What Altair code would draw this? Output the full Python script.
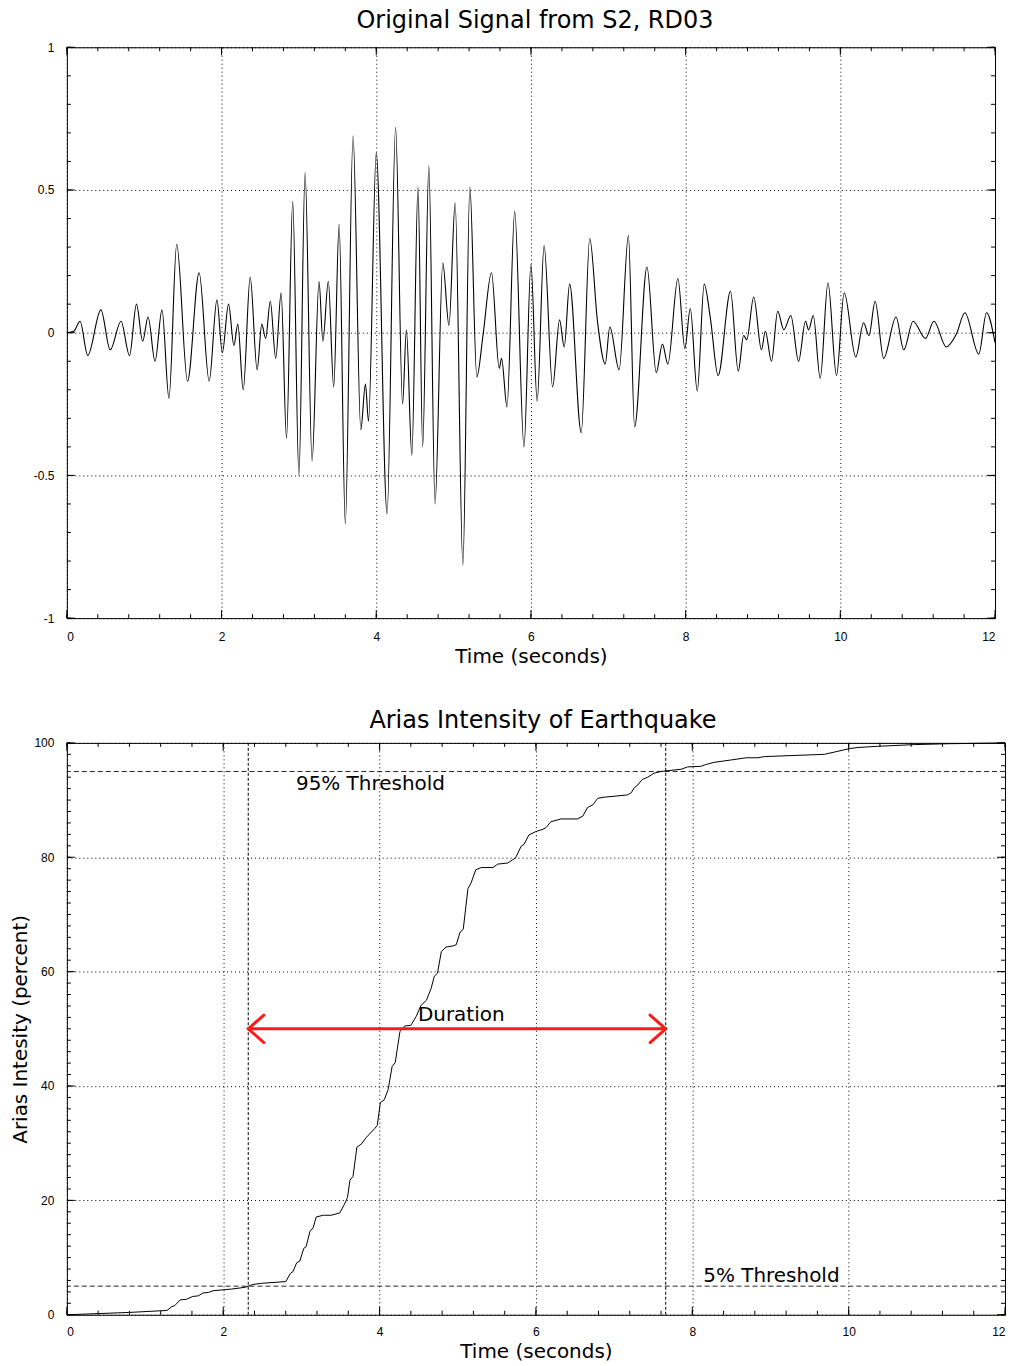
import altair as alt
import pandas as pd

# ---------------- data ----------------
sig_t = [0.00, 0.09, 0.17, 0.27, 0.44, 0.56, 0.70, 0.81, 0.90, 0.98, 1.05, 1.14, 1.23, 1.32, 1.42, 1.56,
         1.71, 1.84, 1.94, 2.01, 2.09, 2.16, 2.21, 2.28, 2.37, 2.46, 2.52, 2.57, 2.63, 2.70, 2.77, 2.84,
         2.92, 3.00, 3.08, 3.17, 3.26, 3.31, 3.38, 3.45, 3.52, 3.60, 3.70, 3.80, 3.86, 3.90, 4.00, 4.14,
         4.25, 4.34, 4.39, 4.46, 4.54, 4.60, 4.68, 4.76, 4.86, 4.94, 5.02, 5.12, 5.21, 5.30, 5.38, 5.49,
         5.59, 5.62, 5.69, 5.79, 5.91, 6.00, 6.08, 6.17, 6.28, 6.37, 6.43, 6.50, 6.65, 6.76, 6.86, 6.96,
         7.02, 7.14, 7.26, 7.34, 7.50, 7.62, 7.70, 7.77, 7.90, 7.99, 8.06, 8.15, 8.24, 8.32, 8.42, 8.58,
         8.68, 8.75, 8.79, 8.88, 8.98, 9.03, 9.11, 9.19, 9.27, 9.36, 9.46, 9.55, 9.59, 9.65, 9.74, 9.84,
         9.95, 10.05, 10.20, 10.30, 10.37, 10.45, 10.56, 10.72, 10.82, 10.94, 11.10, 11.21, 11.37, 11.50,
         11.61, 11.79, 11.89, 12.00]
sig_v = [0.00, 0.005, 0.04, -0.08, 0.08, -0.06, 0.04, -0.08, 0.10, -0.03, 0.055, -0.10, 0.08, -0.23, 0.31, -0.17,
         0.21, -0.17, 0.115, -0.07, 0.10, -0.045, 0.03, -0.20, 0.195, -0.13, 0.03, -0.02, 0.11, -0.09, 0.14, -0.37,
         0.46, -0.50, 0.56, -0.45, 0.18, -0.03, 0.18, -0.19, 0.38, -0.67, 0.69, -0.34, -0.18, -0.31, 0.63, -0.635,
         0.72, -0.25, 0.01, -0.43, 0.51, -0.40, 0.585, -0.60, 0.245, 0.025, 0.455, -0.815, 0.51, -0.155, -0.01, 0.21,
         -0.125, -0.09, -0.26, 0.425, -0.40, 0.24, -0.24, 0.305, -0.19, 0.045, -0.05, 0.17, -0.35, 0.33, 0.04, -0.11,
         0.02, -0.13, 0.34, -0.33, 0.23, -0.14, -0.04, -0.11, 0.19, -0.055, 0.085, -0.205, 0.17, 0.05, -0.15, 0.145,
         -0.135, -0.01, -0.025, 0.125, -0.06, 0.005, -0.10, 0.075, 0.01, 0.06, -0.10, 0.04, 0.01, 0.06, -0.16, 0.175,
         -0.15, 0.14, -0.085, 0.035, -0.01, 0.11, -0.09, 0.055, -0.06, 0.04, -0.02, 0.04, -0.05, -0.005,
         0.07, -0.075, 0.07, -0.035]

arias_t = [0.00, 0.79, 1.28, 1.34, 1.38, 1.45, 1.53, 1.61, 1.68, 1.74, 1.81, 1.87, 2.11, 2.28, 2.38, 2.49,
           2.80, 2.86, 2.89, 2.94, 2.98, 3.03, 3.06, 3.11, 3.15, 3.19, 3.28, 3.38, 3.49, 3.55, 3.59, 3.62,
           3.66, 3.71, 3.77, 3.83, 3.94, 3.97, 4.01, 4.06, 4.11, 4.16, 4.20, 4.26, 4.32, 4.40, 4.47, 4.53,
           4.60, 4.66, 4.70, 4.74, 4.79, 4.85, 4.94, 4.98, 5.03, 5.07, 5.13, 5.17, 5.23, 5.30, 5.45, 5.51,
           5.64, 5.74, 5.81, 5.85, 5.91, 6.00, 6.09, 6.13, 6.19, 6.32, 6.53, 6.60, 6.66, 6.73, 6.79, 6.87,
           7.17, 7.22, 7.26, 7.30, 7.36, 7.43, 7.51, 7.60, 7.86, 7.94, 8.11, 8.17, 8.28, 8.49, 8.69, 8.84,
           8.92, 9.69, 9.82, 10.01, 10.12, 10.37, 10.84, 11.27, 12.00]
arias_v = [0.0, 0.4, 0.75, 1.4, 1.6, 2.6, 2.7, 3.2, 3.3, 3.8, 3.9, 4.2, 4.5, 4.8, 5.3, 5.5,
           5.8, 7.25, 7.5, 9.1, 9.4, 11.6, 11.9, 14.6, 15.2, 17.1, 17.4, 17.4, 17.8, 19.3, 20.5, 23.5,
           24.2, 29.3, 29.9, 31.0, 32.6, 33.1, 37.1, 37.6, 39.4, 43.4, 44.1, 49.5, 50.5, 50.6, 52.2, 54.1,
           55.0, 57.1, 59.2, 59.7, 63.5, 64.3, 64.5, 64.7, 66.9, 67.4, 74.5, 75.5, 77.8, 78.2, 78.2, 78.8,
           79.0, 79.9, 81.9, 82.3, 83.9, 84.5, 84.9, 85.2, 86.2, 86.7, 86.7, 87.2, 88.7, 89.2, 90.3, 90.5,
           90.9, 91.3, 92.2, 92.6, 93.6, 94.0, 94.7, 95.0, 95.4, 95.8, 95.9, 96.2, 96.6, 97.0, 97.4, 97.4,
           97.6, 98.0, 98.4, 99.0, 99.2, 99.4, 99.7, 99.85, 100.0]

threshold_levels = [5, 95]
duration_times = [2.32, 7.66]          # 5% and 95% crossing times
arrow_level = 50
arrow_head = (0.2, 2.4)                # chevron half-size (s, %)

ann_text = ["95% Threshold", "Duration", "5% Threshold"]
ann_t = [2.93, 4.49, 8.14]
ann_v = [92.8, 52.5, 6.8]

x_major = [0, 2, 4, 6, 8, 10, 12]
x_minor = [round(0.4 * i, 1) for i in range(31)]
top_y_major = [-1, -0.5, 0, 0.5, 1]
top_y_minor = [round(-1 + 0.1 * i, 1) for i in range(21)]
bot_y_major = [0, 20, 40, 60, 80, 100]
bot_y_minor = [2 * i for i in range(51)]

# ---------------- helpers ----------------
W1, H1 = 930, 572
W2, H2 = 940, 573
FONT = "DejaVu Sans"

axis_common = dict(grid=True, gridDash=[1, 3], gridColor="black", gridOpacity=1, gridWidth=1,
                   ticks=False, domain=False, labelFont="Liberation Sans", labelFontSize=12,
                   labelColor="black", titleFont=FONT, titleFontSize=20, titleFontWeight="normal",
                   titleColor="black")

def edge_ticks(xvals, yvals, X, Y, W, H, L):
    dfx = pd.DataFrame({"v": xvals})
    dfy = pd.DataFrame({"v": yvals})
    bx = alt.Chart(dfx).mark_rule(color="black", strokeWidth=1)
    by = alt.Chart(dfy).mark_rule(color="black", strokeWidth=1)
    return [
        bx.encode(x=X("v"), y=alt.value(0), y2=alt.value(L)),
        bx.encode(x=X("v"), y=alt.value(H), y2=alt.value(H - L)),
        by.encode(y=Y("v"), x=alt.value(0), x2=alt.value(L)),
        by.encode(y=Y("v"), x=alt.value(W), x2=alt.value(W - L)),
    ]

# ---------------- top panel ----------------
xs1 = alt.Scale(domain=[0, 12], nice=False, zero=False)
ys1 = alt.Scale(domain=[-1, 1], nice=False, zero=False)
ax1x = alt.Axis(values=x_major, title="Time (seconds)", labelPadding=13, titlePadding=4, **axis_common)
ax1y = alt.Axis(values=top_y_major, title=None, labelPadding=13, labelExpr="datum.value + ''", **axis_common)
X1 = lambda f: alt.X(f"{f}:Q", scale=xs1, axis=ax1x)
Y1 = lambda f: alt.Y(f"{f}:Q", scale=ys1, axis=ax1y)

sig_df = pd.DataFrame({"t": sig_t, "v": sig_v})
sig_line = alt.Chart(sig_df).mark_line(color="black", strokeWidth=1.1, interpolate="monotone").encode(
    x=X1("t"), y=Y1("v"))

top = alt.layer(
    sig_line,
    *edge_ticks(x_minor, top_y_minor, X1, Y1, W1, H1, 4),
    *edge_ticks(x_major, top_y_major, X1, Y1, W1, H1, 8),
).properties(width=W1, height=H1,
             title=alt.TitleParams("Original Signal from S2, RD03", font=FONT, fontSize=24,
                                   fontWeight="normal", color="black", offset=8, dx=4))

# ---------------- bottom panel ----------------
xs2 = alt.Scale(domain=[0, 12], nice=False, zero=False)
ys2 = alt.Scale(domain=[0, 100], nice=False, zero=False)
ax2x = alt.Axis(values=x_major, title="Time (seconds)", labelPadding=12, titlePadding=4, **axis_common)
ax2y = alt.Axis(values=bot_y_major, title="Arias Intesity (percent)", labelPadding=13, titlePadding=3,
                **axis_common)
X2 = lambda f: alt.X(f"{f}:Q", scale=xs2, axis=ax2x)
Y2 = lambda f: alt.Y(f"{f}:Q", scale=ys2, axis=ax2y)

ar_df = pd.DataFrame({"t": arias_t, "v": arias_v})
ar_line = alt.Chart(ar_df).mark_line(color="black", strokeWidth=1).encode(x=X2("t"), y=Y2("v"))

thr = alt.Chart(pd.DataFrame({"v": threshold_levels})).mark_rule(
    color="black", strokeWidth=1, strokeDash=[5, 3], opacity=0.85).encode(y=Y2("v"))

dur = alt.Chart(pd.DataFrame({"t": duration_times})).mark_rule(
    color="black", strokeWidth=1, strokeDash=[3, 2]).encode(x=X2("t"))

ta, tb = duration_times
hx, hy = arrow_head
arrow_df = pd.DataFrame({
    "x": [ta, ta, ta, tb, tb],
    "y": [arrow_level] * 5,
    "x2": [tb, ta + hx, ta + hx, tb - hx, tb - hx],
    "y2": [arrow_level, arrow_level + hy, arrow_level - hy, arrow_level + hy, arrow_level - hy],
})
arrow = alt.Chart(arrow_df).mark_rule(color="#ff1a1a", strokeWidth=3, strokeCap="round").encode(
    x=X2("x"), x2="x2:Q", y=Y2("y"), y2="y2:Q")

ann = alt.Chart(pd.DataFrame({"label": ann_text, "t": ann_t, "v": ann_v})).mark_text(
    align="left", baseline="middle", font=FONT, fontSize=20, color="black").encode(
    x=X2("t"), y=Y2("v"), text="label:N")

bottom = alt.layer(
    ar_line, thr, dur, arrow, ann,
    *edge_ticks(x_minor, bot_y_minor, X2, Y2, W2, H2, 4),
    *edge_ticks(x_major, bot_y_major, X2, Y2, W2, H2, 8),
).properties(width=W2, height=H2,
             title=alt.TitleParams("Arias Intensity of Earthquake", font=FONT, fontSize=24,
                                   fontWeight="normal", color="black", offset=4, dx=7))

chart = alt.vconcat(top, bottom, spacing=41).properties(
    padding={"left": 10, "top": 7, "right": 5, "bottom": 2}, background="white"
).configure_view(stroke="black", strokeWidth=1)

chart.save("out.html", embed_options={"renderer": "svg", "actions": False})
